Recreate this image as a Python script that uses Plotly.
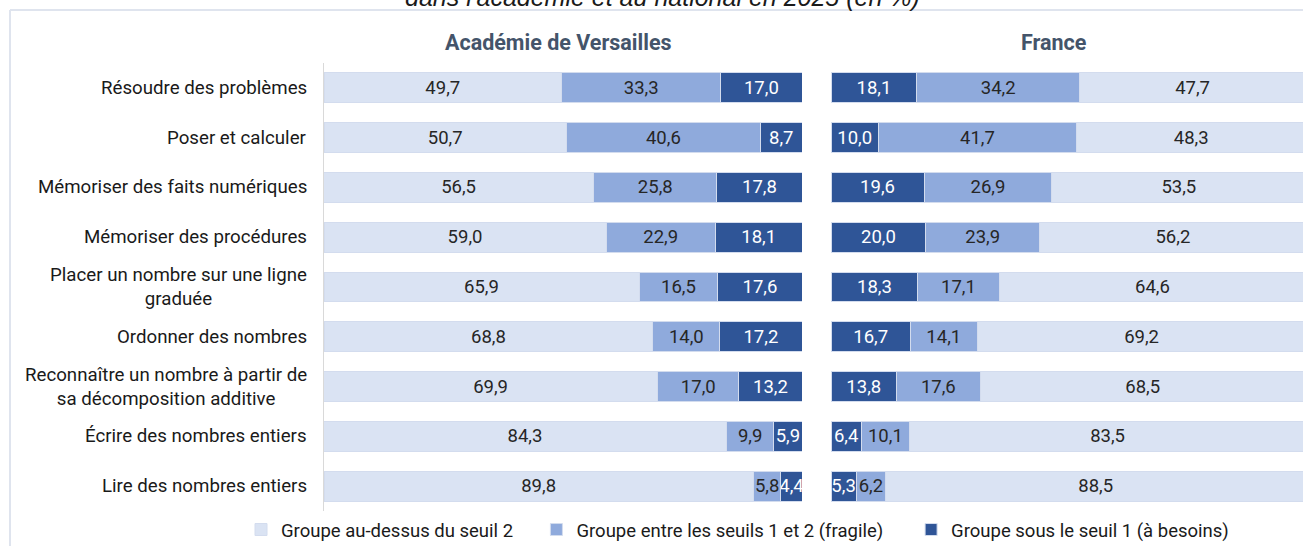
import plotly.graph_objects as go

W, H = 1303, 546
MT, MB = 63, 35

categories = [
    "Résoudre des problèmes",
    "Poser et calculer",
    "Mémoriser des faits numériques",
    "Mémoriser des procédures",
    "Placer un nombre sur une ligne<br>graduée",
    "Ordonner des nombres",
    "Reconnaître un nombre à partir de<br>sa décomposition additive",
    "Écrire des nombres entiers",
    "Lire des nombres entiers",
]

groups = [
    "Groupe au-dessus du seuil 2",
    "Groupe entre les seuils 1 et 2 (fragile)",
    "Groupe sous le seuil 1 (à besoins)",
]

# Académie de Versailles (en %)
versailles_above = [49.7, 50.7, 56.5, 59.0, 65.9, 68.8, 69.9, 84.3, 89.8]
versailles_fragile = [33.3, 40.6, 25.8, 22.9, 16.5, 14.0, 17.0, 9.9, 5.8]
versailles_besoins = [17.0, 8.7, 17.8, 18.1, 17.6, 17.2, 13.2, 5.9, 4.4]

# France (en %)
france_above = [47.7, 48.3, 53.5, 56.2, 64.6, 69.2, 68.5, 83.5, 88.5]
france_fragile = [34.2, 41.7, 26.9, 23.9, 17.1, 14.1, 17.6, 10.1, 6.2]
france_besoins = [18.1, 10.0, 19.6, 20.0, 18.3, 16.7, 13.8, 6.4, 5.3]

colors = ["#dae3f3", "#8faadc", "#2f5597"]
text_colors = ["#262626", "#262626", "#ffffff"]
legend_pad = [4, 5, 0]  # trailing spaces to spread the legend entries
FONT = "Roboto"


def px_x(p):
    return p / W


def px_y(p):
    return (H - MB - p) / (H - MT - MB)


def fmt(vals):
    return [f"{v:.1f}".replace(".", ",") for v in vals]


fig = go.Figure()

# Left panel: bars grow from the centre towards the left (reversed axis)
left = [versailles_above, versailles_fragile, versailles_besoins]
for i in [2, 1, 0]:
    fig.add_trace(go.Bar(
        y=categories, x=left[i], orientation="h",
        name=groups[i] + "\u00a0" * legend_pad[i],
        legendrank=i + 1,
        marker=dict(color=colors[i], line=dict(color="#d3dcee", width=1)),
        text=fmt(left[i]), textposition="inside", insidetextanchor="middle",
        textangle=0, constraintext="none",
        textfont=dict(family=FONT, size=18.5, color=text_colors[i]),
        xaxis="x", yaxis="y", hoverinfo="skip",
    ))

# Right panel: France
right = [france_above, france_fragile, france_besoins]
for i in [2, 1, 0]:
    fig.add_trace(go.Bar(
        y=categories, x=right[i], orientation="h",
        name=groups[i], showlegend=False,
        marker=dict(color=colors[i], line=dict(color="#d3dcee", width=1)),
        text=fmt(right[i]), textposition="inside", insidetextanchor="middle",
        textangle=0, constraintext="none",
        textfont=dict(family=FONT, size=18.5, color=text_colors[i]),
        xaxis="x2", yaxis="y", hoverinfo="skip",
    ))

# Category labels (centred multi-line text, right edge next to the axis)
for c in categories:
    fig.add_annotation(
        x=px_x(309), xref="paper", y=c, yref="y",
        text=c, showarrow=False, xanchor="right", align="center",
        font=dict(family=FONT, size=18.7, color="#1a1a1a"),
    )

# Panel titles
fig.add_annotation(x=px_x(558), y=px_y(42), xref="paper", yref="paper",
                   xanchor="center", yanchor="middle",
                   text="<b>Académie de Versailles</b>", showarrow=False,
                   font=dict(family=FONT, size=21.5, color="#44546a"))
fig.add_annotation(x=px_x(1054), y=px_y(42), xref="paper", yref="paper",
                   xanchor="center", yanchor="middle",
                   text="<b>France</b>", showarrow=False,
                   font=dict(family=FONT, size=21.5, color="#44546a"))

# Chart title (cut off at the top of the frame)
fig.add_annotation(x=px_x(662), y=px_y(-3), xref="paper", yref="paper",
                   xanchor="center", yanchor="middle",
                   text="<i>dans l'académie et au national en 2025 (en %)</i>",
                   showarrow=False,
                   font=dict(family="Liberation Sans", size=25, color="#1a1a1a"))

# Outer frame lines
fig.add_shape(type="line", xref="paper", yref="paper",
              x0=px_x(10), x1=1, y0=px_y(10), y1=px_y(10),
              line=dict(color="#dfe4ee", width=2))
fig.add_shape(type="line", xref="paper", yref="paper",
              x0=px_x(10), x1=px_x(10), y0=px_y(10), y1=px_y(H),
              line=dict(color="#dfe4ee", width=2))

fig.update_layout(
    width=W, height=H,
    margin=dict(l=0, r=0, t=MT, b=MB, autoexpand=False),
    paper_bgcolor="white", plot_bgcolor="white",
    barmode="stack", bargap=0.4,
    font=dict(family=FONT, size=16, color="#1a1a1a"),
    xaxis=dict(domain=[px_x(324), px_x(802)], range=[100, 0], anchor="y",
               showgrid=False, zeroline=False, showticklabels=False, showline=False),
    xaxis2=dict(domain=[px_x(831), 1], range=[0, 99.4], anchor="y",
                showgrid=False, zeroline=False, showticklabels=False, showline=False),
    yaxis=dict(autorange="reversed", showticklabels=False, showgrid=False,
               zeroline=False, showline=True, linecolor="#d9d9d9", linewidth=1,
               ticks=""),
    legend=dict(orientation="h", x=px_x(241), xanchor="left",
                y=px_y(530), yanchor="middle",
                font=dict(family=FONT, size=18.5, color="#1a1a1a"),
                itemwidth=30, traceorder="normal"),
    showlegend=True,
)

# page body has a default 8px margin; drop it so the figure sits at (0, 0)
fig.write_html("out.html", config={"displayModeBar": False},
               post_script="document.body.style.margin='0';")
